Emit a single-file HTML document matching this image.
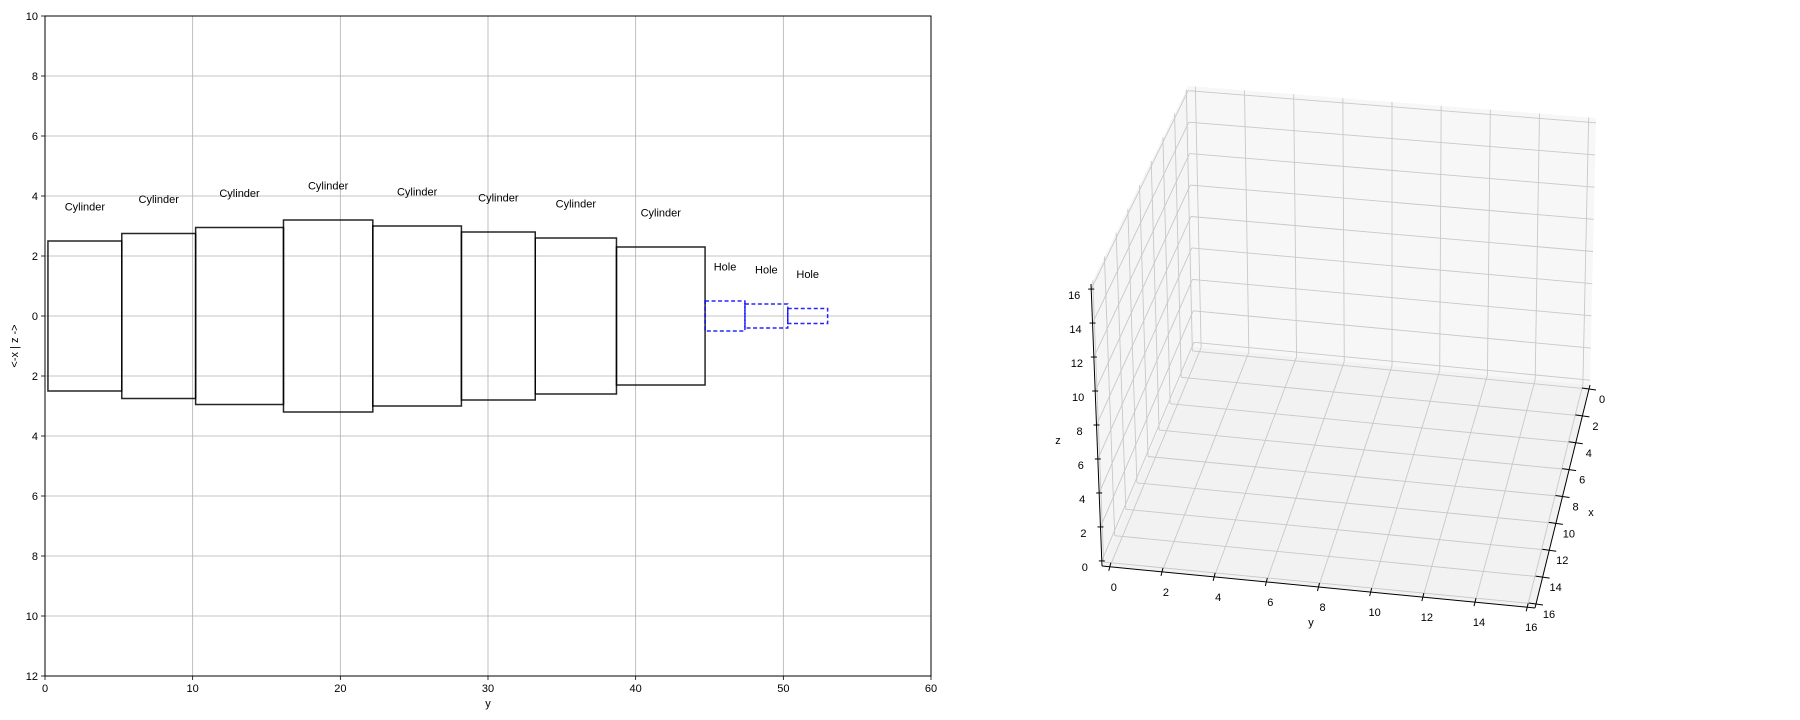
<!DOCTYPE html>
<html><head><meta charset="utf-8">
<style>
html,body{margin:0;padding:0;background:#fff;}
svg{display:block;font-family:"Liberation Sans","DejaVu Sans",sans-serif;}
</style></head>
<body>
<svg id="root" width="1800" height="720" viewBox="0 0 1800 720" xmlns="http://www.w3.org/2000/svg">
<g id="left"></g>
<g id="right"></g>
</svg>
<script>
// ---- profile chart data ----
const segStarts = [0.2, 5.2, 10.2, 16.15, 22.2, 28.2, 33.2, 38.7, 44.7, 47.4, 50.3];
const segEnds   = [5.2, 10.2, 16.15, 22.2, 28.2, 33.2, 38.7, 44.7, 47.4, 50.3, 53.0];
const segRadii  = [2.5, 2.75, 2.95, 3.2, 3.0, 2.8, 2.6, 2.3, 0.5, 0.4, 0.25];
const segTypes  = ["Cylinder","Cylinder","Cylinder","Cylinder","Cylinder","Cylinder","Cylinder","Cylinder","Hole","Hole","Hole"];
const xTicks = [0,10,20,30,40,50,60];
const yTicks = [10,8,6,4,2,0,-2,-4,-6,-8,-10,-12];
// ---- 3d axis ticks ----
const ticks3d = [0,2,4,6,8,10,12,14,16];

const NS="http://www.w3.org/2000/svg";
function mk(tag, attrs, parent){const e=document.createElementNS(NS,tag);for(const k in attrs)e.setAttribute(k,attrs[k]);parent.appendChild(e);return e;}

const L=document.getElementById('left');
const X0=45,X1=931,Y0=16,Y1=676;
const sx=v=>X0+(v-0)/(60-0)*(X1-X0);
const sy=v=>Y0+(10-v)/(10-(-12))*(Y1-Y0);

xTicks.forEach(t=>{
  const g=mk('line',{x1:sx(t),x2:sx(t),y1:Y0,y2:Y1,stroke:'#b0b0b0','stroke-width':0.8},L);
  
  
  const tk=mk('line',{x1:sx(t),x2:sx(t),y1:Y1,y2:Y1+4,stroke:'#000','stroke-width':0.8},L);
  
  
  const tx=mk('text',{x:sx(t),y:Y1+16,'font-size':11,'text-anchor':'middle',fill:'#000'},L);
  tx.textContent=t;
  
  
});
yTicks.forEach(t=>{
  const g=mk('line',{x1:X0,x2:X1,y1:sy(t),y2:sy(t),stroke:'#b0b0b0','stroke-width':0.8},L);
  
  
  const tk=mk('line',{x1:X0-4,x2:X0,y1:sy(t),y2:sy(t),stroke:'#000','stroke-width':0.8},L);
  
  
  const tx=mk('text',{x:X0-7,y:sy(t)+4,'font-size':11,'text-anchor':'end',fill:'#000'},L);
  tx.textContent=Math.abs(t);
  
  
});
segStarts.forEach((s,i)=>{
  const r=segRadii[i], hole=segTypes[i]==='Hole';
  const rc=mk('rect',{x:sx(s),y:sy(r),width:sx(segEnds[i])-sx(s),height:sy(-r)-sy(r),fill:'none',
    stroke:hole?'#0000ff':'#000','stroke-width':1.5,'stroke-dasharray':hole?'4,2.5':'none','stroke-opacity':0.85},L);
  
  
  const tx=mk('text',{x:sx((s+segEnds[i])/2),y:sy(r+1.15)+4,'font-size':11,'text-anchor':'middle',fill:'#000'},L);
  tx.textContent=segTypes[i];
  
  
});
const fr=mk('rect',{x:X0,y:Y0,width:X1-X0,height:Y1-Y0,fill:'none',stroke:'#000','stroke-width':1},L);


const xl=mk('text',{x:(X0+X1)/2,y:707,'font-size':11,'text-anchor':'middle'},L);
xl.textContent='y';


const yl=mk('text',{x:0,y:0,'font-size':11,'text-anchor':'middle',transform:'translate(18,346) rotate(-90)'},L);
yl.textContent='<-x | z ->';



// ---- 3D ----
const R=document.getElementById('right');
const F00=[1194,347],F0Y=[1590,385],FXY=[1535,608],FX0=[1102,566];
const T00=[1188,86],T0Y=[1596,118],TX0=[1091,284];
function bil(a,b,c,d,u,v){
  return [a[0]*(1-u)*(1-v)+b[0]*u*(1-v)+c[0]*(1-u)*v+d[0]*u*v,
          a[1]*(1-u)*(1-v)+b[1]*u*(1-v)+c[1]*(1-u)*v+d[1]*u*v];}
const P=0.018;
const fr3=v=>P+(1-2*P)*(v-0)/16;
function poly(pts,fill,name){const p=mk('polygon',{points:pts.map(q=>q.join(',')).join(' '),fill:fill,stroke:'none'},R);
  
  }
poly([T00,T0Y,F0Y,F00],'#f7f7f7','back-wall');
poly([T00,F00,FX0,TX0],'#f5f5f5','side-wall');
poly([F00,F0Y,FXY,FX0],'#f2f2f2','floor');
function gl(a,b,name){const l=mk('line',{x1:a[0],y1:a[1],x2:b[0],y2:b[1],stroke:'#c8c8c8','stroke-width':0.9},R);
  
  }
ticks3d.forEach(t=>{
  const f=fr3(t);
  gl(bil(F00,F0Y,FX0,FXY,f,0),bil(F00,F0Y,FX0,FXY,f,1),'floor-gridline-y');
  gl(bil(F00,F0Y,FX0,FXY,0,f),bil(F00,F0Y,FX0,FXY,1,f),'floor-gridline-x');
  gl(bil(F00,F0Y,T00,T0Y,f,0),bil(F00,F0Y,T00,T0Y,f,1),'back-gridline-y');
  gl(bil(F00,F0Y,T00,T0Y,0,f),bil(F00,F0Y,T00,T0Y,1,f),'back-gridline-z');
  gl(bil(F00,FX0,T00,TX0,f,0),bil(F00,FX0,T00,TX0,f,1),'side-gridline-x');
  gl(bil(F00,FX0,T00,TX0,0,f),bil(F00,FX0,T00,TX0,1,f),'side-gridline-z');
});
function ax(a,b,name){const l=mk('line',{x1:a[0],y1:a[1],x2:b[0],y2:b[1],stroke:'#000','stroke-width':1},R);
  
  }
ax(FX0,TX0,'z-axis-line');ax(FX0,FXY,'y-axis-line');ax(F0Y,FXY,'x-axis-line');
function lab(p,txt,name,anchor){const t=mk('text',{x:p[0],y:p[1]+4,'font-size':11,'text-anchor':anchor||'middle',fill:'#000'},R);
  t.textContent=txt;
  
  }
ticks3d.forEach(t=>{
  const f=fr3(t);
  const pz=[FX0[0]+(TX0[0]-FX0[0])*f,FX0[1]+(TX0[1]-FX0[1])*f];
  ax([pz[0]-3,pz[1]],[pz[0]+3,pz[1]],'z-tick');
  lab([pz[0]-17,pz[1]+6],t,'z-tick-label');
  const py=[FX0[0]+(FXY[0]-FX0[0])*f,FX0[1]+(FXY[1]-FX0[1])*f];
  ax([py[0]-1,py[1]+4],[py[0]+1,py[1]-4],'y-tick');
  lab([py[0]+4,py[1]+20],t,'y-tick-label');
  const px=[F0Y[0]+(FXY[0]-F0Y[0])*f,F0Y[1]+(FXY[1]-F0Y[1])*f];
  ax([px[0]-7,px[1]-1],[px[0]+7,px[1]+1],'x-tick');
  lab([px[0]+13,px[1]+10],t,'x-tick-label');
});
lab([1058,440],'z','z-axis-title');
lab([1311,622],'y','y-axis-title');
lab([1591,512],'x','x-axis-title');
</script>
</body></html>
